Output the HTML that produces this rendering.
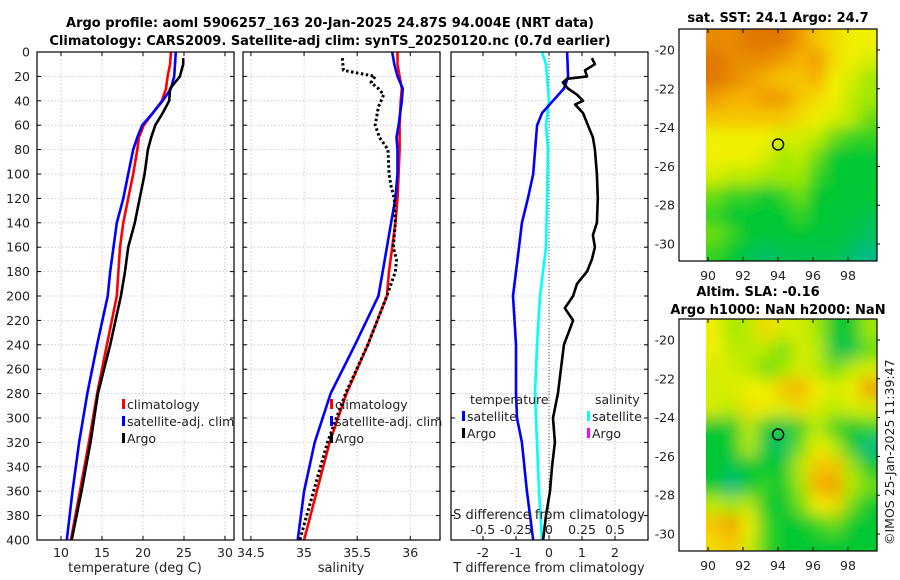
<!DOCTYPE html>
<html><head><meta charset="utf-8"><style>
html,body{margin:0;padding:0;background:#fff;}
svg{display:block;font-family:"DejaVu Sans","Liberation Sans",sans-serif;}
</style></head><body>
<svg id="fig" width="900" height="580" viewBox="0 0 900 580" xmlns="http://www.w3.org/2000/svg">
<defs>
<filter id="blurA" x="-10%" y="-10%" width="120%" height="120%"><feGaussianBlur stdDeviation="7"/></filter>
<filter id="blurB" x="-10%" y="-10%" width="120%" height="120%"><feGaussianBlur stdDeviation="8"/></filter>
<clipPath id="clipTop"><rect x="706" y="29" width="171" height="232"/></clipPath>
<clipPath id="clipBot"><rect x="706" y="319" width="171" height="232"/></clipPath>
</defs>
<text x="330" y="27" text-anchor="middle" font-size="13" font-weight="bold">Argo profile: aoml 5906257_163 20-Jan-2025 24.87S 94.004E (NRT data)</text>
<text x="330" y="45" text-anchor="middle" font-size="13" font-weight="bold">Climatology: CARS2009. Satellite-adj clim: synTS_20250120.nc (0.7d earlier)</text>
<g id="plots"></g>
<text x="778" y="22" text-anchor="middle" font-size="13" font-weight="bold">sat. SST: 24.1 Argo: 24.7</text>
<text x="758" y="296" text-anchor="middle" font-size="13" font-weight="bold">Altim. SLA: -0.16</text>
<text x="778" y="314" text-anchor="middle" font-size="13" font-weight="bold">Argo h1000: NaN h2000: NaN</text>
<text transform="translate(894,545) rotate(-90)" font-size="12.5" fill="#222">©IMOS 25-Jan-2025 11:39:47</text>
</svg>
<script>
// ---- depth axes ----
const depthTicks = [0,20,40,60,80,100,120,140,160,180,200,220,240,260,280,300,320,340,360,380,400];
// ---- temperature panel ----
const tempTicks = [10,15,20,25,30];
const tArgoDepth = [5,10,20,30,40,50,60,70,80,100,120,140,160,180,200,240,280,320,360,400];
const tArgo = [24.9,24.9,24.5,23.3,23.2,22.4,21.5,21.0,20.6,20.2,19.6,19.0,18.2,17.8,17.3,16.0,14.5,13.6,12.5,11.3];
const tClimDepth = [0,10,20,30,40,50,60,70,80,100,120,140,160,180,200,240,280,320,360,400];
const tClim = [23.4,23.3,23.0,22.8,22.3,21.2,20.1,19.5,19.3,18.8,18.2,17.6,17.2,17.0,16.8,15.6,14.4,13.4,12.3,11.2];
const tSat = [24.0,23.9,23.8,23.4,22.4,21.2,19.9,19.3,18.8,18.2,17.6,16.8,16.4,16.0,15.7,14.4,13.2,12.2,11.4,10.7];
// ---- salinity panel ----
const salTicks = [34.5,35,35.5,36];
const sArgoDepth = [5,15,20,25,30,35,45,60,70,80,100,110,120,140,160,170,180,200,240,280,320,360,400];
const sArgo = [35.36,35.37,35.67,35.63,35.70,35.75,35.70,35.67,35.71,35.79,35.80,35.82,35.85,35.86,35.84,35.87,35.86,35.78,35.60,35.39,35.22,35.09,34.96];
const sClimDepth = [0,10,20,30,40,60,70,80,100,120,140,160,180,200,240,280,320,360,400];
const sClim = [35.88,35.88,35.90,35.92,35.91,35.90,35.90,35.90,35.89,35.88,35.86,35.83,35.80,35.78,35.60,35.40,35.24,35.12,35.00];
const sSat = [35.83,35.85,35.88,35.93,35.92,35.89,35.87,35.88,35.88,35.86,35.82,35.78,35.74,35.70,35.48,35.25,35.10,35.00,34.94];
// ---- difference panel ----
const dTTicks = [-2,-1,0,1,2];
const dSTickLabels = ['-0.5','-0.25','0','0.25','0.5'];
const dSTicks = [-0.5,-0.25,0,0.25,0.5];
const dSatTDepth = [0,20,25,30,40,50,60,70,100,120,140,160,200,240,280,300,320,360,400];
const dSatT = [0.55,0.58,0.52,0.45,0.12,-0.21,-0.36,-0.39,-0.48,-0.64,-0.82,-0.91,-1.09,-1.0,-1.0,-0.97,-0.82,-0.67,-0.48];
const dSatSDepth = [0,10,30,40,60,80,100,160,200,240,280,320,360,400];
const dSatS = [-0.053,-0.023,-0.008,0.0,-0.023,-0.008,-0.011,-0.023,-0.068,-0.091,-0.106,-0.091,-0.076,-0.053];
const dArgoTDepth = [5,10,15,20,22,25,30,35,40,43,50,60,70,80,100,120,140,150,160,170,180,190,200,210,220,240,260,280,300,320,340,360,380,400];
const dArgoT = [1.3,1.39,1.09,1.15,0.55,0.42,0.58,0.85,1.03,0.79,1.03,1.18,1.33,1.39,1.45,1.48,1.45,1.33,1.39,1.3,1.15,0.85,0.73,0.48,0.73,0.45,0.36,0.27,0.12,0.18,0.09,0.03,-0.09,-0.18];
// ---- maps (value index on colour scale, rows north->south, cols west->east) ----
const sstGrid = [
[0.85,0.85,0.9,0.95,0.9,0.8,0.7,0.65,0.6,0.6],
[0.9,0.85,0.85,0.85,0.8,0.75,0.8,0.65,0.6,0.55],
[0.9,0.85,0.8,0.75,0.7,0.7,0.75,0.6,0.55,0.45],
[0.8,0.75,0.75,0.8,0.8,0.7,0.65,0.6,0.5,0.45],
[0.7,0.7,0.7,0.7,0.7,0.65,0.6,0.55,0.5,0.4],
[0.6,0.6,0.6,0.6,0.55,0.55,0.5,0.4,0.35,0.35],
[0.6,0.6,0.6,0.55,0.45,0.5,0.4,0.3,0.3,0.3],
[0.55,0.5,0.5,0.45,0.45,0.45,0.35,0.3,0.3,0.3],
[0.4,0.35,0.35,0.3,0.35,0.4,0.3,0.3,0.28,0.3],
[0.35,0.3,0.3,0.3,0.3,0.35,0.3,0.28,0.28,0.25],
[0.4,0.35,0.3,0.3,0.28,0.3,0.28,0.28,0.25,0.22],
[0.35,0.3,0.25,0.2,0.25,0.25,0.25,0.25,0.2,0.15]];
const slaGrid = [
[0.6,0.45,0.5,0.65,0.55,0.55,0.45,0.3,0.3,0.45],
[0.6,0.5,0.5,0.5,0.4,0.55,0.5,0.25,0.25,0.4],
[0.55,0.55,0.5,0.4,0.45,0.55,0.5,0.4,0.5,0.55],
[0.55,0.55,0.6,0.6,0.7,0.75,0.6,0.55,0.6,0.8],
[0.55,0.5,0.65,0.6,0.55,0.65,0.55,0.5,0.55,0.55],
[0.3,0.3,0.5,0.3,0.25,0.35,0.5,0.35,0.3,0.35],
[0.3,0.3,0.5,0.25,0.2,0.4,0.6,0.5,0.3,0.15],
[0.3,0.25,0.3,0.3,0.3,0.5,0.7,0.7,0.45,0.3],
[0.3,0.15,0.3,0.35,0.3,0.45,0.75,0.8,0.5,0.4],
[0.5,0.45,0.5,0.3,0.3,0.4,0.6,0.65,0.4,0.3],
[0.7,0.8,0.6,0.35,0.3,0.3,0.35,0.4,0.3,0.3],
[0.65,0.7,0.55,0.35,0.3,0.3,0.3,0.3,0.3,0.3]];
const lonTicks = [90,92,94,96,98];
const latTicks = [-20,-22,-24,-26,-28,-30];
const argoLon = 94.004, argoLat = -24.87;

const NS='http://www.w3.org/2000/svg';
const root=document.getElementById('plots');
function el(tag,attrs,parent){const e=document.createElementNS(NS,tag);for(const k in attrs)e.setAttribute(k,attrs[k]);(parent||root).appendChild(e);return e;}
const Y0=52, Y1=540;
const yD=d=>Y0+(d/400)*(Y1-Y0);
function lin(d0,d1,r0,r1){return v=>r0+(v-d0)/(d1-d0)*(r1-r0);}

function panel(name,x0,x1,xs,ticks,tickLabels,showY){
  const g=el('g',{});
  
  
  ticks.forEach(t=>{const x=xs(t);el('line',{x1:x,x2:x,y1:Y0,y2:Y1,stroke:'#e0b8a8','stroke-width':0.8,'stroke-dasharray':'1.5,2'},g);});
  depthTicks.forEach(d=>{el('line',{x1:x0,x2:x1,y1:yD(d),y2:yD(d),stroke:'#b8c4e8','stroke-width':0.8,'stroke-dasharray':'1.5,2'},g);});
  ticks.forEach((t,i)=>{const x=xs(t);
    el('line',{x1:x,x2:x,y1:Y1,y2:Y1-4,stroke:'#000'},g);el('line',{x1:x,x2:x,y1:Y0,y2:Y0+4,stroke:'#000'},g);
    if(tickLabels){const tx=el('text',{x:x,y:Y1+17,'text-anchor':'middle','font-size':12.5,fill:'#222'},g);tx.textContent=tickLabels[i];}
  });
  depthTicks.forEach(d=>{el('line',{x1:x0,x2:x0+4,y1:yD(d),y2:yD(d),stroke:'#000'},g);el('line',{x1:x1,x2:x1-4,y1:yD(d),y2:yD(d),stroke:'#000'},g);
    if(showY){const tx=el('text',{x:x0-7,y:yD(d)+4.5,'text-anchor':'end','font-size':12.5,fill:'#222'},g);tx.textContent=d;}
  });
  return g;
}
function series(g,name,depths,vals,xs,color,dash,w){
  const pts=vals.map((v,i)=>xs(v).toFixed(1)+','+yD(depths[i]).toFixed(1)).join(' ');
  const p=el('polyline',{points:pts,fill:'none',stroke:color,'stroke-width':w||2.6,'stroke-linejoin':'round'},g);
  if(dash)p.setAttribute('stroke-dasharray',dash);
  
  
}
function box(g,x0,x1){el('rect',{x:x0,y:Y0,width:x1-x0,height:Y1-Y0,fill:'none',stroke:'#000','stroke-width':1.2},g);}
function legendItem(g,name,x,y,color,label){
  const lg=el('g',{},g);
  
  
  el('rect',{x:x,y:y-10,width:3,height:10,fill:color},lg);
  const t=el('text',{x:x+5,y:y,'font-size':12.5,fill:'#222'},lg);t.textContent=label;
}

// Panel 1
const xT=lin(7.07,31.1,37,234);
const g1=panel('temperature',37,234,xT,tempTicks,tempTicks.map(String),true);
series(g1,'temp-climatology-line',tClimDepth,tClim,xT,'#ff0000');
series(g1,'temp-satellite-line',tClimDepth,tSat,xT,'#0000ff');
series(g1,'temp-argo-line',tArgoDepth,tArgo,xT,'#000');
box(g1,37,234);
legendItem(g1,'legend-climatology',122,409,'#ff0000','climatology');
legendItem(g1,'legend-satellite-adj',122,426,'#0000ff','satellite-adj. clim');
legendItem(g1,'legend-argo',122,443,'#000','Argo');
let t=el('text',{x:135,y:572,'text-anchor':'middle','font-size':13,fill:'#222'},g1);t.textContent='temperature (deg C)';


// Panel 2
const xS=lin(34.425,36.28,243,440);
const g2=panel('salinity',243,440,xS,salTicks,salTicks.map(String),false);
series(g2,'sal-climatology-line',sClimDepth,sClim,xS,'#ff0000');
series(g2,'sal-satellite-line',sClimDepth,sSat,xS,'#0000ff');
series(g2,'sal-argo-line',sArgoDepth,sArgo,xS,'#000','2.5,2.5',3);
box(g2,243,440);
legendItem(g2,'legend-climatology-sal',330,409,'#ff0000','climatology');
legendItem(g2,'legend-satellite-adj-sal',330,426,'#0000ff','satellite-adj. clim');
legendItem(g2,'legend-argo-sal',330,443,'#000','Argo');
t=el('text',{x:341,y:572,'text-anchor':'middle','font-size':13,fill:'#222'},g2);t.textContent='salinity';


// Panel 3
const xDT=lin(0,1,549,582);
const xDS=lin(0,0.25,549,582);
const g3=panel('difference',451,648,xDT,dTTicks,dTTicks.map(String),false);
el('line',{x1:549,x2:549,y1:Y0,y2:Y1,stroke:'#555','stroke-width':1,'stroke-dasharray':'1,2'},g3);
series(g3,'sal-diff-satellite-line',dSatSDepth,dSatS,xDS,'#00ffff');
series(g3,'temp-diff-satellite-line',dSatTDepth,dSatT,xDT,'#0000ff');
series(g3,'temp-diff-argo-line',dArgoTDepth,dArgoT,xDT,'#000');
box(g3,451,648);
t=el('text',{x:470,y:404,'font-size':12.5,fill:'#222'},g3);t.textContent='temperature';
t=el('text',{x:595,y:404,'font-size':12.5,fill:'#222'},g3);t.textContent='salinity';
legendItem(g3,'legend-temp-satellite',462,421,'#0000ff','satellite');
legendItem(g3,'legend-temp-argo',462,438,'#000','Argo');
legendItem(g3,'legend-sal-satellite',587,421,'#00ffff','satellite');
legendItem(g3,'legend-sal-argo',587,438,'#ff00ff','Argo');
t=el('text',{x:549,y:519,'text-anchor':'middle','font-size':13,fill:'#222'},g3);t.textContent='S difference from climatology';

dSTicks.forEach((v,i)=>{const tx=el('text',{x:xDS(v),y:534,'text-anchor':'middle','font-size':12.5,fill:'#222'},g3);tx.textContent=dSTickLabels[i];});
t=el('text',{x:549,y:572,'text-anchor':'middle','font-size':13,fill:'#222'},g3);t.textContent='T difference from climatology';


// colour map
const stops=[[0.1,[0,184,160]],[0.3,[0,200,48]],[0.45,[160,232,0]],[0.6,[240,240,0]],[0.75,[248,176,0]],[0.9,[224,120,0]]];
function cmap(v){if(v<=stops[0][0])return 'rgb('+stops[0][1]+')';
  for(let i=1;i<stops.length;i++){if(v<=stops[i][0]){const a=stops[i-1],b=stops[i],f=(v-a[0])/(b[0]-a[0]);
    return 'rgb('+a[1].map((c,k)=>Math.round(c+(b[1][k]-c)*f)).join(',')+')';}}
  return 'rgb('+stops[stops.length-1][1]+')';}

function drawMap(name,grid,top,clip,blur){
  const g=el('g',{});
  
  
  const xL=lin(88.34,99.66,679,877);
  const yL=lin(-20,-30,top+21,top+215);
  const lon0=89.9, lat0=-19, nr=grid.length, nc=grid[0].length;
  const dLon=(99.66-lon0)/nc, dLat=12/nr;
  const cg=el('g',{'clip-path':'url(#'+clip+')'},g);
  const bg=el('g',{filter:'url(#'+blur+')'},cg);
  for(let r=-2;r<nr+2;r++)for(let c=-2;c<nc+2;c++){
    const rr=Math.min(nr-1,Math.max(0,r)), cc=Math.min(nc-1,Math.max(0,c));
    const xa=xL(lon0+c*dLon), xb=xL(lon0+(c+1)*dLon), ya=yL(lat0-r*dLat), yb=yL(lat0-(r+1)*dLat);
    el('rect',{x:xa,y:ya,width:xb-xa+0.6,height:yb-ya+0.6,fill:cmap(grid[rr][cc])},bg);
  }
  el('rect',{x:679,y:top,width:198,height:232,fill:'none',stroke:'#000','stroke-width':1.2},g);
  lonTicks.forEach(v=>{const x=xL(v);el('line',{x1:x,x2:x,y1:top+232,y2:top+228,stroke:'#000'},g);el('line',{x1:x,x2:x,y1:top,y2:top+4,stroke:'#000'},g);
    const tx=el('text',{x:x,y:top+251,'text-anchor':'middle','font-size':12.5,fill:'#222'},g);tx.textContent=v;});
  latTicks.forEach(v=>{const y=yL(v);el('line',{x1:877,x2:880,y1:y,y2:y,stroke:'#000'},g);
    const tx=el('text',{x:675,y:y+4.5,'text-anchor':'end','font-size':12.5,fill:'#222'},g);tx.textContent=v;});
  const m=el('circle',{cx:xL(argoLon),cy:yL(argoLat),r:5.5,fill:'none',stroke:'#000','stroke-width':1.4},g);
  
  
}
drawMap('sst-map',sstGrid,29,'clipTop','blurA');
drawMap('sla-map',slaGrid,319,'clipBot','blurB');
</script>
</body></html>
